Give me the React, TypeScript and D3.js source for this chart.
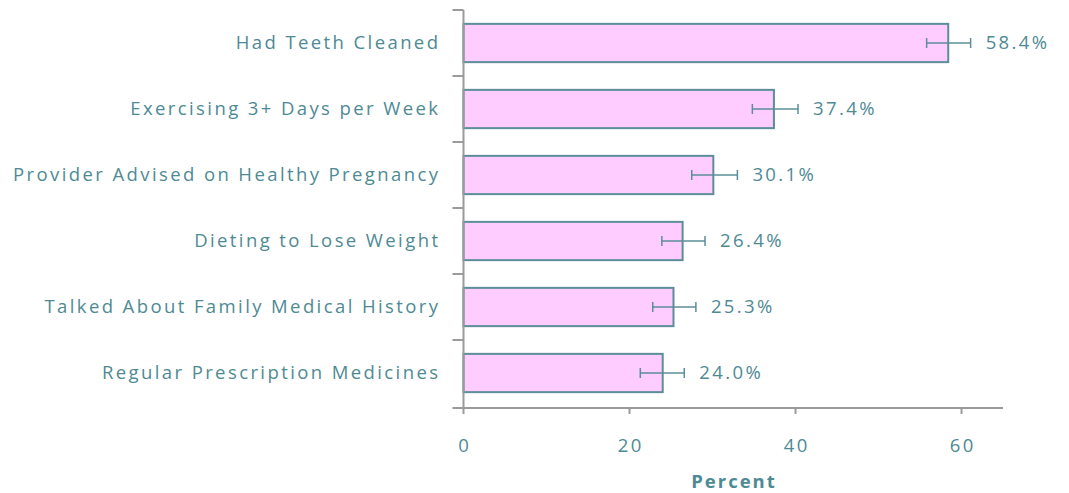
import React from "react";
import * as d3 from "d3";

const categories = [
  "Had Teeth Cleaned",
  "Exercising 3+ Days per Week",
  "Provider Advised on Healthy Pregnancy",
  "Dieting to Lose Weight",
  "Talked About Family Medical History",
  "Regular Prescription Medicines",
];
const values = [58.4, 37.4, 30.1, 26.4, 25.3, 24.0];
const lower = [55.8, 34.8, 27.5, 23.9, 22.8, 21.3];
const upper = [61.1, 40.3, 33.0, 29.1, 28.0, 26.6];
const xTicks = [0, 20, 40, 60];

const W = 1069;
const H = 493;
const TEXT = "#4e8a94";
const STROKE = "#5b8e98";
const AXIS = "#9a9a9a";
const FONT = "'Open Sans', 'DejaVu Sans', sans-serif";
const FS = 18.5;
const LS = 2.4;

export default function App() {
  const x = d3.scaleLinear().domain([0, 65]).range([463.5, 1003]);
  const y = d3
    .scaleBand<string>()
    .domain(categories)
    .range([10, 406])
    .paddingInner(0.42)
    .paddingOuter(0.21);
  const step = y.step();
  const bounds = categories.map((_, i) => 10 + i * step);

  return (
    <svg
      width={W}
      height={H}
      style={{ position: "absolute", left: 0, top: 0, display: "block", background: "#fff" }}
      fontFamily={FONT}
    >
      {categories.map((c, i) => {
        const yy = y(c)!;
        const bh = y.bandwidth();
        const cy = yy + bh / 2;
        return (
          <g key={c}>
            <rect
              x={x(0)}
              y={yy}
              width={x(values[i]) - x(0)}
              height={bh}
              fill="#ffccff"
              stroke={STROKE}
              strokeWidth={2}
            />
            <line x1={x(lower[i])} x2={x(upper[i])} y1={cy} y2={cy} stroke={STROKE} strokeWidth={1.5} />
            <line x1={x(lower[i])} x2={x(lower[i])} y1={cy - 5} y2={cy + 5} stroke={STROKE} strokeWidth={1.5} />
            <line x1={x(upper[i])} x2={x(upper[i])} y1={cy - 5} y2={cy + 5} stroke={STROKE} strokeWidth={1.5} />
            <text x={x(upper[i]) + 15} y={cy} dy="0.35em" fill={TEXT} fontSize={FS} letterSpacing={LS}>
              {values[i].toFixed(1)}%
            </text>
            <text x={438 + LS} y={cy} dy="0.35em" textAnchor="end" fill={TEXT} fontSize={FS} letterSpacing={LS}>
              {c}
            </text>
          </g>
        );
      })}
      <line x1={x(0)} x2={x(0)} y1={bounds[0]} y2={408} stroke={AXIS} strokeWidth={2} />
      {bounds.map((b, i) => (
        <line key={i} x1={x(0) - 11} x2={x(0)} y1={b} y2={b} stroke={AXIS} strokeWidth={2} />
      ))}
      <line x1={x(0) - 11} x2={x(65)} y1={408} y2={408} stroke={AXIS} strokeWidth={2} />
      {xTicks.map((t) => (
        <g key={t}>
          <line x1={x(t)} x2={x(t)} y1={408} y2={414} stroke={AXIS} strokeWidth={2} />
          <text x={x(t) + LS / 2} y={446} dy="0.35em" textAnchor="middle" fill={TEXT} fontSize={FS} letterSpacing={LS}>
            {t}
          </text>
        </g>
      ))}
      <text x={733 + 1} y={482} dy="0.35em" textAnchor="middle" fill={TEXT} fontSize={FS} fontWeight="bold" letterSpacing={2}>
        Percent
      </text>
    </svg>
  );
}
